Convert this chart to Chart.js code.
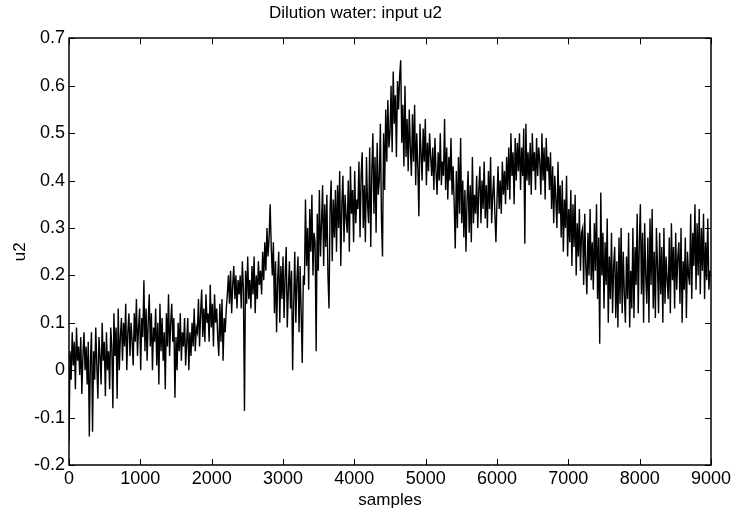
<!DOCTYPE html>
<html>
<head>
<meta charset="utf-8">
<title>Dilution water: input u2</title>
<script src="https://cdn.jsdelivr.net/npm/chart.js@4/dist/chart.umd.min.js"></script>
<style>
  html, body { margin: 0; padding: 0; background: #fff; }
  #wrap { width: 736px; height: 511px; position: relative; }
</style>
</head>
<body>
<div id="wrap"><canvas id="chartU2" width="736" height="511"></canvas></div>
<script>
'use strict';

// ── Data (one value every 15 samples) ──────────────────────────────
const sampleStep = 15;
const u2 = [
  -0.15, 0.04, -0.02, 0.08, 0.01, 0.06, -0.04, 0.09, 0.02, 0.05,        // 0
  -0.01, 0.07, -0.05, 0.03, 0.08, 0.0, 0.05, -0.03, 0.06, -0.14,        // 150
  0.02, 0.08, -0.13, 0.04, -0.02, 0.09, 0.01, -0.06, 0.07, 0.03,        // 300
  -0.03, 0.1, 0.02, 0.06, -0.055, 0.08, 0.0, 0.04, -0.04, 0.09,         // 450
  0.05, -0.08, 0.12, 0.03, 0.09, -0.06, 0.13, 0.0, 0.07, 0.11,          // 600
  0.02, 0.1, 0.05, 0.14, 0.0, 0.08, 0.12, 0.03, 0.1, 0.06,              // 750
  0.01, 0.12, 0.06, 0.15, 0.03, 0.09, 0.13, 0.0, 0.11, 0.07,            // 900
  0.19, 0.04, 0.13, 0.02, 0.1, 0.16, 0.05, 0.12, 0.0, 0.09,             // 1050
  0.06, 0.13, 0.01, 0.1, -0.03, 0.14, 0.04, 0.11, 0.02, 0.08,           // 1200
  -0.04, 0.12, 0.05, 0.16, 0.03, 0.1, 0.14, 0.06, 0.11, -0.058,         // 1350
  0.07, 0.0, 0.1, 0.04, 0.12, 0.02, 0.08, 0.05, 0.11, 0.01,             // 1500
  0.06, 0.11, 0.0, 0.08, 0.03, 0.1, 0.05, 0.13, 0.04, 0.09,             // 1650
  0.08, 0.15, 0.05, 0.12, 0.17, 0.07, 0.13, 0.06, 0.16, 0.1,            // 1800
  0.12, 0.06, 0.18, 0.09, 0.14, 0.05, 0.16, 0.1, 0.13, 0.07,            // 1950
  0.03, 0.14, 0.06, 0.15, 0.02, 0.11, 0.08, 0.13, 0.16, 0.2,            // 2100
  0.14, 0.21, 0.12, 0.18, 0.22, 0.15, 0.2, 0.13, 0.19, 0.16,            // 2250
  0.2, 0.13, 0.23, 0.17, -0.086, 0.21, 0.14, 0.24, 0.15, 0.19,          // 2400
  0.13, 0.22, 0.16, 0.24, 0.12, 0.2, 0.15, 0.23, 0.18, 0.21,            // 2550
  0.16, 0.25, 0.19, 0.27, 0.21, 0.3, 0.24, 0.28, 0.35, 0.26,            // 2700
  0.2, 0.27, 0.12, 0.23, 0.08, 0.19, 0.25, 0.1, 0.22, 0.15,             // 2850
  0.24, 0.11, 0.2, 0.26, 0.09, 0.17, 0.23, 0.13, 0.21, 0.0,             // 3000
  0.14, 0.25, 0.1, 0.19, 0.24, 0.08, 0.22, 0.12, 0.015, 0.2,            // 3150
  0.18, 0.36, 0.22, 0.3, 0.17, 0.34, 0.25, 0.37, 0.2, 0.29,             // 3300
  0.27, 0.04, 0.33, 0.21, 0.38, 0.24, 0.31, 0.39, 0.22, 0.35,           // 3450
  0.26, 0.37, 0.2, 0.13, 0.34, 0.4, 0.23, 0.36, 0.28, 0.38,             // 3600
  0.25, 0.39, 0.3, 0.42, 0.22, 0.35, 0.41, 0.27, 0.37, 0.32,            // 3750
  0.29, 0.4, 0.25, 0.43, 0.33, 0.38, 0.27, 0.42, 0.31, 0.36,            // 3900
  0.34, 0.44, 0.28, 0.41, 0.46, 0.3, 0.39, 0.27, 0.45, 0.35,            // 4050
  0.31, 0.47, 0.26, 0.42, 0.5, 0.33, 0.45, 0.29, 0.48, 0.37,            // 4200
  0.4, 0.52, 0.32, 0.24, 0.5, 0.38, 0.55, 0.44, 0.57, 0.47,             // 4350
  0.5, 0.6, 0.46, 0.63, 0.52, 0.58, 0.45, 0.61, 0.55, 0.62,             // 4500
  0.654, 0.48, 0.56, 0.43, 0.6, 0.45, 0.53, 0.42, 0.55, 0.47,           // 4650
  0.41, 0.54, 0.44, 0.56, 0.39, 0.5, 0.43, 0.325, 0.52, 0.46,           // 4800
  0.4, 0.51, 0.44, 0.53, 0.39, 0.48, 0.42, 0.5, 0.45, 0.41,             // 4950
  0.47, 0.38, 0.49, 0.42, 0.37, 0.46, 0.4, 0.5, 0.39, 0.44,             // 5100
  0.41, 0.53, 0.38, 0.47, 0.36, 0.45, 0.4, 0.49, 0.37, 0.43,            // 5250
  0.35, 0.257, 0.42, 0.3, 0.45, 0.33, 0.49, 0.31, 0.4, 0.28,            // 5400
  0.38, 0.25, 0.36, 0.42, 0.29, 0.39, 0.27, 0.45, 0.31, 0.37,           // 5550
  0.33, 0.41, 0.3, 0.38, 0.43, 0.31, 0.4, 0.34, 0.44, 0.32,             // 5700
  0.39, 0.3, 0.42, 0.34, 0.45, 0.31, 0.37, 0.41, 0.33, 0.27,            // 5850
  0.36, 0.43, 0.34, 0.4, 0.33, 0.44, 0.37, 0.42, 0.35, 0.45,            // 6000
  0.38, 0.47, 0.36, 0.5, 0.41, 0.46, 0.35, 0.49, 0.4, 0.48,             // 6150
  0.42, 0.5, 0.38, 0.47, 0.41, 0.51, 0.267, 0.52, 0.4, 0.46,            // 6300
  0.39, 0.48, 0.37, 0.5, 0.42, 0.46, 0.38, 0.49, 0.41, 0.47,            // 6450
  0.44, 0.37, 0.5, 0.4, 0.47, 0.36, 0.49, 0.42, 0.45, 0.38,             // 6600
  0.46, 0.34, 0.43, 0.31, 0.41, 0.36, 0.3, 0.44, 0.33, 0.39,            // 6750
  0.28, 0.4, 0.25, 0.36, 0.3, 0.41, 0.24, 0.34, 0.27, 0.38,             // 6900
  0.22, 0.35, 0.26, 0.37, 0.2, 0.31, 0.24, 0.34, 0.21, 0.29,            // 7050
  0.3, 0.18, 0.33, 0.22, 0.16, 0.29, 0.2, 0.34, 0.19, 0.27,             // 7200
  0.17, 0.31, 0.21, 0.35, 0.15, 0.28, 0.056, 0.375, 0.2, 0.29,          // 7350
  0.13, 0.27, 0.18, 0.32, 0.1, 0.24, 0.15, 0.29, 0.12, 0.22,            // 7500
  0.26, 0.11, 0.23, 0.09, 0.28, 0.14, 0.3, 0.12, 0.25, 0.16,            // 7650
  0.1, 0.24, 0.15, 0.29, 0.09, 0.21, 0.13, 0.3, 0.11, 0.26,             // 7800
  0.18, 0.33, 0.12, 0.27, 0.35, 0.16, 0.29, 0.1, 0.31, 0.2,             // 7950
  0.14, 0.28, 0.1, 0.32, 0.18, 0.34, 0.13, 0.25, 0.11, 0.3,             // 8100
  0.22, 0.12, 0.29, 0.16, 0.26, 0.1, 0.3, 0.14, 0.24, 0.19,             // 8250
  0.15, 0.28, 0.12, 0.31, 0.19, 0.26, 0.13, 0.29, 0.17, 0.24,           // 8400
  0.27, 0.14, 0.3, 0.1, 0.23, 0.17, 0.28, 0.11, 0.25, 0.2,              // 8550
  0.18, 0.33, 0.15, 0.29, 0.22, 0.35, 0.17, 0.31, 0.2, 0.34,            // 8700
  0.16, 0.3, 0.21, 0.33, 0.15, 0.27, 0.19, 0.32, 0.17, 0.21             // 8850
];

const xTicks = [0, 1000, 2000, 3000, 4000, 5000, 6000, 7000, 8000, 9000];
const yTicks = [-0.2, -0.1, 0, 0.1, 0.2, 0.3, 0.4, 0.5, 0.6, 0.7];

const FONT = 'Liberation Sans, Arial, Helvetica, sans-serif';

// ── Matlab style box with inward ticks on all four sides ───────────
const boxTicks = {
  id: 'boxTicks',
  afterDraw(chart) {
    const { ctx, chartArea: a, scales } = chart;
    const len = 6;
    ctx.save();
    ctx.strokeStyle = '#000';
    ctx.lineWidth = 1;
    ctx.beginPath();
    xTicks.forEach(v => {
      const px = Math.round(scales.x.getPixelForValue(v)) + 0.5;
      ctx.moveTo(px, a.bottom); ctx.lineTo(px, a.bottom - len);
      ctx.moveTo(px, a.top);    ctx.lineTo(px, a.top + len);
    });
    yTicks.forEach(v => {
      const py = Math.round(scales.y.getPixelForValue(v)) + 0.5;
      ctx.moveTo(a.left, py);  ctx.lineTo(a.left + len, py);
      ctx.moveTo(a.right, py); ctx.lineTo(a.right - len, py);
    });
    ctx.stroke();
    ctx.lineWidth = 1.5;
    ctx.strokeRect(Math.round(a.left), Math.round(a.top),
                   Math.round(a.right - a.left), Math.round(a.bottom - a.top));
    ctx.restore();
  }
};

const whiteBg = {
  id: 'whiteBg',
  beforeDraw(chart) {
    const { ctx, width, height } = chart;
    ctx.save();
    ctx.fillStyle = '#fff';
    ctx.fillRect(0, 0, width, height);
    ctx.restore();
  }
};

new Chart(document.getElementById('chartU2').getContext('2d'), {
  type: 'line',
  data: {
    datasets: [{
      label: 'u2',
      data: u2.map((v, i) => ({ x: i * sampleStep, y: v })),
      borderColor: '#000',
      borderWidth: 1.4,
      pointRadius: 0,
      tension: 0,
      fill: false
    }]
  },
  options: {
    responsive: false,
    animation: false,
    layout: { padding: { left: 0, right: 25, top: 0, bottom: 0 } },
    plugins: {
      legend: { display: false },
      tooltip: { enabled: false },
      title: {
        display: true,
        text: 'Dilution water: input u2',
        color: '#000',
        font: { family: FONT, size: 17, weight: 'normal' },
        padding: { top: 3, bottom: 15 }
      }
    },
    scales: {
      x: {
        type: 'linear',
        min: 0, max: 9000,
        grid: { display: false, drawTicks: false, tickLength: 0 },
        border: { display: false },
        afterBuildTicks: s => { s.ticks = xTicks.map(v => ({ value: v })); },
        ticks: {
          color: '#000', padding: 3, maxRotation: 0, font: { family: FONT, size: 18 },
          callback: v => String(v)
        },
        title: {
          display: true, text: 'samples', color: '#000',
          font: { family: FONT, size: 17 }, padding: { top: 15, bottom: 0 }
        },
        afterFit: s => { s.height = 46; }
      },
      y: {
        type: 'linear',
        min: -0.2, max: 0.7,
        grid: { display: false, drawTicks: false, tickLength: 0 },
        border: { display: false },
        afterBuildTicks: s => { s.ticks = yTicks.map(v => ({ value: v })); },
        ticks: {
          color: '#000', padding: 4, font: { family: FONT, size: 18 },
          callback: v => String(+v.toFixed(1))
        },
        title: {
          display: true, text: 'u2', color: '#000',
          font: { family: FONT, size: 17 }, padding: { top: 10, bottom: 0 }
        },
        afterFit: s => { s.width = 69; }
      }
    }
  },
  plugins: [whiteBg, boxTicks]
});
</script>
</body>
</html>
